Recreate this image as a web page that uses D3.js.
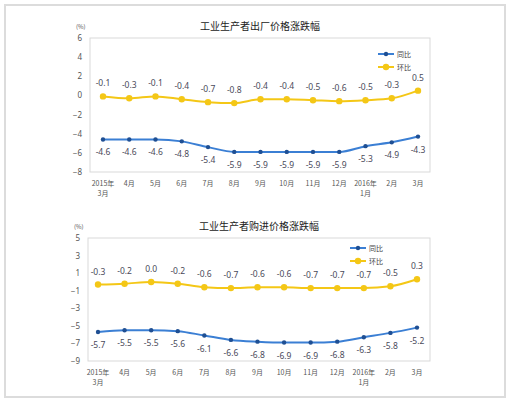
<!DOCTYPE html>
<html>
<head>
<meta charset="utf-8">
<script src="https://cdn.jsdelivr.net/npm/d3@7"></script>
<style>
  body { margin: 0; background: #fff; }
  text { font-family: "Noto Sans CJK SC", "Noto Sans", sans-serif; }
</style>
</head>
<body>
<div id="vis"></div>
<script>
// x categories (two-line labels split by \n)
const months = ["2015年\n3月", "4月", "5月", "6月", "7月", "8月", "9月", "10月", "11月", "12月", "2016年\n1月", "2月", "3月"];

// 出厂价格
const outYoy = [-4.6, -4.6, -4.6, -4.8, -5.4, -5.9, -5.9, -5.9, -5.9, -5.9, -5.3, -4.9, -4.3];
const outMom = [-0.1, -0.3, -0.1, -0.4, -0.7, -0.8, -0.4, -0.4, -0.5, -0.6, -0.5, -0.3, 0.5];
const outTicks = [6, 4, 2, 0, -2, -4, -6, -8];

// 购进价格
const inYoy = [-5.7, -5.5, -5.5, -5.6, -6.1, -6.6, -6.8, -6.9, -6.9, -6.8, -6.3, -5.8, -5.2];
const inMom = [-0.3, -0.2, 0.0, -0.2, -0.6, -0.7, -0.6, -0.6, -0.7, -0.7, -0.7, -0.5, 0.3];
const inTicks = [5, 3, 1, -1, -3, -5, -7, -9];

const seriesNames = ["同比", "环比"];
const blue = "#3b7fd4", blueDot = "#1f4f93", yellow = "#f4c716";

const svg = d3.select("#vis").append("svg")
  .attr("width", 510)
  .attr("height", 403);

// outer frame
svg.append("rect")
  .attr("x", 5).attr("y", 5)
  .attr("width", 500).attr("height", 392)
  .attr("fill", "#fff")
  .attr("stroke", "#dcdcdc")
  .attr("stroke-width", 2);

function drawChart(cfg) {
  const g = svg.append("g");

  const x = d3.scalePoint()
    .domain(d3.range(months.length))
    .range([cfg.x0, cfg.x1]);

  const y = d3.scaleLinear()
    .domain([d3.min(cfg.ticks), d3.max(cfg.ticks)])
    .range([cfg.bottom, cfg.top]);

  // plot frame
  g.append("rect")
    .attr("x", cfg.left).attr("y", cfg.top)
    .attr("width", cfg.right - cfg.left)
    .attr("height", cfg.bottom - cfg.top)
    .attr("fill", "none")
    .attr("stroke", "#d9d9d9");

  // y axis
  const yAxis = g.append("g")
    .attr("transform", "translate(" + (cfg.left - 8) + ",0)")
    .call(d3.axisLeft(y).tickValues(cfg.ticks).tickSize(0).tickPadding(0));
  yAxis.select(".domain").remove();
  yAxis.selectAll("text")
    .attr("font-size", 8)
    .attr("fill", "#555")
    .style("font-family", "'Noto Sans', sans-serif");

  g.append("text")
    .attr("x", cfg.left - 14)
    .attr("y", cfg.top - 9)
    .attr("font-size", 6)
    .attr("fill", "#555")
    .text("(%)");

  // title
  g.append("text")
    .attr("x", (cfg.left + cfg.right) / 2)
    .attr("y", cfg.top - 8)
    .attr("text-anchor", "middle")
    .attr("font-size", 10)
    .attr("fill", "#222")
    .text(cfg.title);

  // x labels
  const xl = g.selectAll(".xl")
    .data(months)
    .enter().append("text")
    .attr("class", "xl")
    .attr("text-anchor", "middle")
    .attr("font-size", 7)
    .attr("fill", "#555")
    .attr("transform", (d, i) => "translate(" + x(i) + "," + (cfg.bottom + 14) + ")");
  xl.selectAll("tspan")
    .data(d => d.split("\n"))
    .enter().append("tspan")
    .attr("x", 0)
    .attr("dy", (d, i) => i === 0 ? 0 : 10)
    .text(d => d);

  const line = d3.line()
    .x((d, i) => x(i))
    .y(d => y(d))
    .curve(d3.curveMonotoneX);

  const series = [
    { name: seriesNames[0], values: cfg.yoy, color: blue, dot: blueDot, r: 2.2, dy: 16 },
    { name: seriesNames[1], values: cfg.mom, color: yellow, dot: yellow, r: 3.2, dy: -10 }
  ];

  series.forEach(s => {
    g.append("path")
      .datum(s.values)
      .attr("d", line)
      .attr("fill", "none")
      .attr("stroke", s.color)
      .attr("stroke-width", 2);

    g.selectAll(null)
      .data(s.values)
      .enter().append("circle")
      .attr("cx", (d, i) => x(i))
      .attr("cy", d => y(d))
      .attr("r", s.r)
      .attr("fill", s.dot);

    g.selectAll(null)
      .data(s.values)
      .enter().append("text")
      .attr("x", (d, i) => x(i))
      .attr("y", d => y(d) + s.dy)
      .attr("text-anchor", "middle")
      .attr("font-size", 8.5)
      .attr("fill", "#4a4a5a")
      .style("font-family", "'Noto Sans', sans-serif")
      .text(d => d.toFixed(1));
  });

  // legend
  const lg = g.selectAll(".legend")
    .data(series)
    .enter().append("g")
    .attr("transform", (d, i) => "translate(" + cfg.legX + "," + (cfg.legY + i * 13) + ")");
  lg.append("line")
    .attr("x1", 0).attr("x2", 16)
    .attr("stroke", d => d.color)
    .attr("stroke-width", 2);
  lg.append("circle")
    .attr("cx", 8).attr("r", d => d.r)
    .attr("fill", d => d.dot);
  lg.append("text")
    .attr("x", 19).attr("y", 3)
    .attr("font-size", 7)
    .attr("fill", "#444")
    .text(d => d.name);
}

drawChart({
  title: "工业生产者出厂价格涨跌幅",
  yoy: outYoy, mom: outMom, ticks: outTicks,
  left: 90, right: 430, top: 38, bottom: 172,
  x0: 103, x1: 418,
  legX: 378, legY: 54
});

drawChart({
  title: "工业生产者购进价格涨跌幅",
  yoy: inYoy, mom: inMom, ticks: inTicks,
  left: 88, right: 430, top: 238, bottom: 361,
  x0: 98, x1: 417,
  legX: 350, legY: 248
});
</script>
</body>
</html>
